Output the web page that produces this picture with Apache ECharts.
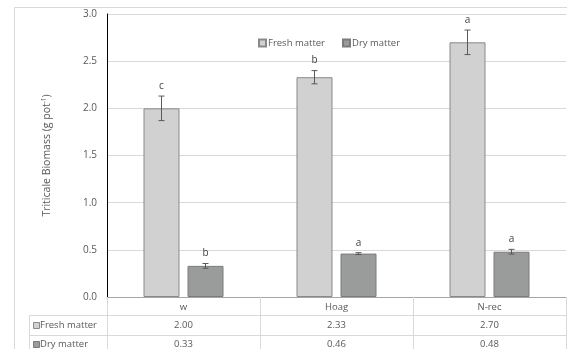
<!DOCTYPE html>
<html>
<head>
<meta charset="utf-8">
<script src="https://cdn.jsdelivr.net/npm/echarts@6/dist/echarts.min.js"></script>
<style>
  html, body { margin: 0; padding: 0; background: #fff; }
  #chart { width: 567px; height: 349px; }
</style>
</head>
<body>
<div id="chart"></div>
<script>
// Treatments and measured biomass (g per pot)
const categories = ['w', 'Hoag', 'N-rec'];
const seriesNames = ['Fresh matter', 'Dry matter'];
const freshValues = [2.00, 2.33, 2.70];
const dryValues = [0.33, 0.46, 0.48];
const freshErrors = [0.13, 0.07, 0.13];
const dryErrors = [0.025, 0.01, 0.025];
const freshLetters = ['c', 'b', 'a'];
const dryLetters = ['b', 'a', 'a'];
const yTicks = { min: 0, max: 3, interval: 0.5 };

const FONT = '"Open Sans", sans-serif';
const TEXT = '#595959';
const GRID_LINE = '#d9d9d9';
const BAR_W = 36;
const BAR_GAP = 8;
const colors = {
  fresh: { fill: '#d0d1d0', border: '#898989' },
  dry: { fill: '#9a9c9b', border: '#7b7b7b' }
};

const chart = echarts.init(document.getElementById('chart'), null, { renderer: 'canvas' });

// Error bar with significance letter, shifted onto its bar within the category
function errorBarRenderer(offset, letters) {
  return function (params, api) {
    const i = api.value(0), v = api.value(1), e = api.value(2);
    const top = api.coord([i, v + e]);
    const bot = api.coord([i, v - e]);
    const x = top[0] + offset;
    const cap = 3;
    const s = { stroke: '#595959', lineWidth: 1 };
    return {
      type: 'group',
      children: [
        { type: 'line', shape: { x1: x, y1: top[1], x2: x, y2: bot[1] }, style: s },
        { type: 'line', shape: { x1: x - cap, y1: top[1], x2: x + cap, y2: top[1] }, style: s },
        { type: 'line', shape: { x1: x - cap, y1: bot[1], x2: x + cap, y2: bot[1] }, style: s },
        {
          type: 'text',
          style: {
            x: x, y: top[1] - 5, text: letters[params.dataIndex],
            fill: '#404040', font: '10px ' + FONT, align: 'center', verticalAlign: 'bottom'
          }
        }
      ]
    };
  };
}

const half = (BAR_W + BAR_GAP) / 2;

const option = {
  animation: false,
  textStyle: { fontFamily: FONT },
  grid: { left: 107, right: 1, top: 14, bottom: 50, containLabel: false },
  legend: {
    data: seriesNames,
    left: 253, top: 33,
    icon: 'rect', itemWidth: 7, itemHeight: 7, itemGap: 17,
    textStyle: { fontSize: 9.5, color: TEXT, fontFamily: FONT, padding: [0, 0, 0, -3] }
  },
  xAxis: {
    type: 'category',
    data: categories,
    axisLine: { lineStyle: { color: '#a6a6a6', width: 1 } },
    axisTick: { show: true, length: 58, lineStyle: { color: GRID_LINE } },
    axisLabel: {
      margin: 1,
      interval: 0,
      formatter: function (value, idx) {
        return '{c|' + value + '}\n{f|' + freshValues[idx].toFixed(2) + '}\n{d|' + dryValues[idx].toFixed(2) + '}';
      },
      rich: {
        c: { fontSize: 9.5, color: TEXT, lineHeight: 18, fontFamily: FONT },
        f: { fontSize: 9.5, color: TEXT, lineHeight: 19, fontFamily: FONT },
        d: { fontSize: 9.5, color: TEXT, lineHeight: 18, fontFamily: FONT }
      }
    },
    splitLine: { show: false }
  },
  yAxis: {
    type: 'value',
    min: yTicks.min, max: yTicks.max, interval: yTicks.interval,
    name: '{a|Triticale Biomass (g pot}{s|-1}{a|)}',
    nameLocation: 'middle',
    nameRotate: 90,
    nameGap: 53,
    nameTextStyle: {
      rich: {
        a: { fontSize: 10.5, color: TEXT, fontFamily: FONT, lineHeight: 13 },
        s: { fontSize: 6.5, color: TEXT, fontFamily: FONT, verticalAlign: 'top', lineHeight: 13, padding: [0, 0, 5, 0] }
      }
    },
    axisLine: { show: true, lineStyle: { color: '#000', width: 1 } },
    axisTick: { show: false },
    axisLabel: {
      fontSize: 10, color: TEXT, margin: 10, fontFamily: FONT,
      formatter: v => v.toFixed(1)
    },
    splitLine: { lineStyle: { color: GRID_LINE, width: 1 } }
  },
  series: [
    {
      name: seriesNames[0], type: 'bar', data: freshValues,
      barWidth: BAR_W, barGap: (BAR_GAP / BAR_W * 100) + '%',
      itemStyle: { color: colors.fresh.fill, borderColor: colors.fresh.border, borderWidth: 1 }
    },
    {
      name: seriesNames[1], type: 'bar', data: dryValues,
      barWidth: BAR_W,
      itemStyle: { color: colors.dry.fill, borderColor: colors.dry.border, borderWidth: 1 }
    },
    {
      type: 'custom', z: 5,
      renderItem: errorBarRenderer(-half, freshLetters),
      encode: { x: 0, y: 1 },
      data: freshValues.map((v, i) => [i, v, freshErrors[i]])
    },
    {
      type: 'custom', z: 5,
      renderItem: errorBarRenderer(half, dryLetters),
      encode: { x: 0, y: 1 },
      data: dryValues.map((v, i) => [i, v, dryErrors[i]])
    }
  ]
};

chart.setOption(option);

// Outer frame and the row-header column of the data table beneath the axis
function drawTableFrame() {
  const yAxis0 = chart.convertToPixel({ yAxisIndex: 0 }, 0);
  const rowTops = [yAxis0 + 18, yAxis0 + 38];
  const tableLeft = 29, tableRight = 567;
  const els = [
    { type: 'rect', shape: { x: 14.5, y: 7.5, width: 600, height: 400 }, style: { fill: 'none', stroke: GRID_LINE, lineWidth: 1 }, silent: true, z: -1 }
  ];
  rowTops.forEach(y => {
    els.push({ type: 'line', shape: { x1: tableLeft, y1: Math.round(y) + 0.5, x2: tableRight, y2: Math.round(y) + 0.5 }, style: { stroke: GRID_LINE, lineWidth: 1 } });
  });
  els.push({ type: 'line', shape: { x1: tableLeft + 0.5, y1: rowTops[0], x2: tableLeft + 0.5, y2: 349 }, style: { stroke: GRID_LINE, lineWidth: 1 } });
  const keys = ['fresh', 'dry'];
  seriesNames.forEach((name, k) => {
    const yc = rowTops[0] + 10 + k * 19;
    els.push({ type: 'rect', shape: { x: 33.5, y: Math.round(yc - 3.5) + 0.5, width: 6, height: 6 }, style: { fill: colors[keys[k]].fill, stroke: colors[keys[k]].border, lineWidth: 1 } });
    els.push({ type: 'text', style: { x: 40, y: yc, text: name, fill: TEXT, font: '9.5px ' + FONT, verticalAlign: 'middle' } });
  });
  chart.setOption({ graphic: { elements: els } });
}
drawTableFrame();
</script>
</body>
</html>
